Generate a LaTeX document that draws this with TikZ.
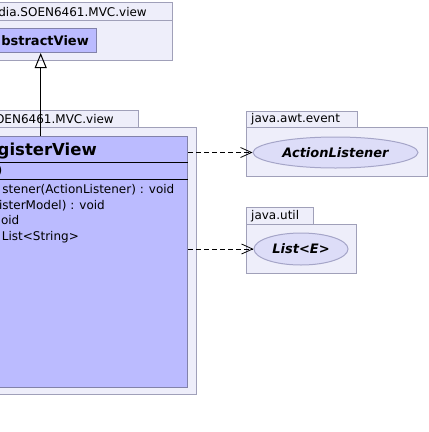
\documentclass[tikz,border=0pt]{standalone}
\usepackage{fontspec}
\setmainfont{DejaVu Sans}
\usetikzlibrary{arrows.meta,shapes.geometric}
\definecolor{pkgfill}{RGB}{238,238,250}
\definecolor{pkgborder}{RGB}{160,160,185}
\definecolor{classfill}{RGB}{187,187,255}
\definecolor{classborder}{RGB}{130,130,170}
\definecolor{ifill}{RGB}{221,221,248}
\definecolor{iborder}{RGB}{165,165,200}
\tikzset{
  pkg/.style={draw=pkgborder,fill=pkgfill,line width=1pt,inner sep=0pt,anchor=north west},
  cls/.style={draw=classborder,fill=classfill,line width=1pt,inner sep=0pt,anchor=north west},
  iface/.style={ellipse,draw=iborder,fill=ifill,line width=1pt,inner sep=0pt,
     font=\fontsize{13}{15}\selectfont\bfseries\itshape},
  txt/.style={inner sep=0pt,font=\fontsize{12}{14}\selectfont},
  ttl/.style={inner sep=0pt,font=\fontsize{13}{15}\selectfont\bfseries},
  bigttl/.style={inner sep=0pt,font=\fontsize{16.5}{19}\selectfont\bfseries},
  dep/.style={dashed,dash pattern=on 5pt off 3pt,line width=0.8pt,-{Straight Barb[length=11pt,width=10pt]}},
  inh/.style={line width=1pt,-{Triangle[open,length=15pt,width=12pt,line width=1pt]}},
  sep/.style={line width=1pt,black}
}
\begin{document}
\begin{tikzpicture}[x=1pt,y=-1pt]
\useasboundingbox (0,0) rectangle (429,432);
\fill[white] (0,0) rectangle (429,432);
\clip (0,0) rectangle (429,432);
% top package
\node[pkg,minimum width=177pt,minimum height=18pt] (ptab) at (-5,2) {};
\node[pkg,minimum width=177pt,minimum height=40pt] (pbody) at (-5,20) {};
\node[txt,anchor=base east] (ptabt) at (147,16) {dia.SOEN6461.MVC.view};
\node[cls,minimum width=101pt,minimum height=24pt] (abs) at (-5,28) {};
\node[ttl,anchor=base east] (abst) at (89,45.5) {bstractView};
% second package
\node[pkg,minimum width=143pt,minimum height=17pt] (qtab) at (-5,110) {};
\node[pkg,minimum width=201pt,minimum height=267pt] (qbody) at (-5,127) {};
\node[txt,anchor=base east] (qtabt) at (114,123) {OEN6461.MVC.view};
\node[cls,minimum width=192pt,minimum height=251pt] (reg) at (-5,136) {};
\draw[sep] (-5,162) coordinate (s1) -- (s1 -| reg.east);
\draw[sep] (-5,179) coordinate (s2) -- (s2 -| reg.east);
\node[bigttl,anchor=base east] (regt) at (97,155.7) {egisterView};
\node[txt,anchor=base east] (m0) at (2.5,174) {)};
\node[txt,anchor=base east] (m1) at (174.5,193.5) {stener(ActionListener) : void};
\node[txt,anchor=base east] (m2) at (105,209) {isterModel) : void};
\node[txt,anchor=base east] (m3) at (19.5,224.5) {oid};
\node[txt,anchor=base east] (m4) at (79,240.5) {List<String>};
% java.awt.event
\node[pkg,minimum width=111pt,minimum height=16pt] (atab) at (246,111) {};
\node[pkg,minimum width=181pt,minimum height=49pt] (abody) at (246,127) {};
\node[txt,anchor=base west] (atabt) at (251,122) {java.awt.event};
\node[iface,minimum width=165pt,minimum height=31pt] (al) at (335.5,152.5) {ActionListener};
% java.util
\node[pkg,minimum width=67pt,minimum height=17pt] (utab) at (246,207) {};
\node[pkg,minimum width=110pt,minimum height=49pt] (ubody) at (246,224) {};
\node[txt,anchor=base west] (utabt) at (251,219) {java.util};
\node[iface,minimum width=94pt,minimum height=32pt] (le) at (301,249) {List<E>};
% connectors
\coordinate (ix) at (40.7,0);
\draw[inh] (ix |- reg.north) -- (ix |- abs.south);
\draw[dep] (reg.east |- al.west) -- (al.west);
\draw[dep] (reg.east |- le.west) -- (le.west);
\end{tikzpicture}
\end{document}
